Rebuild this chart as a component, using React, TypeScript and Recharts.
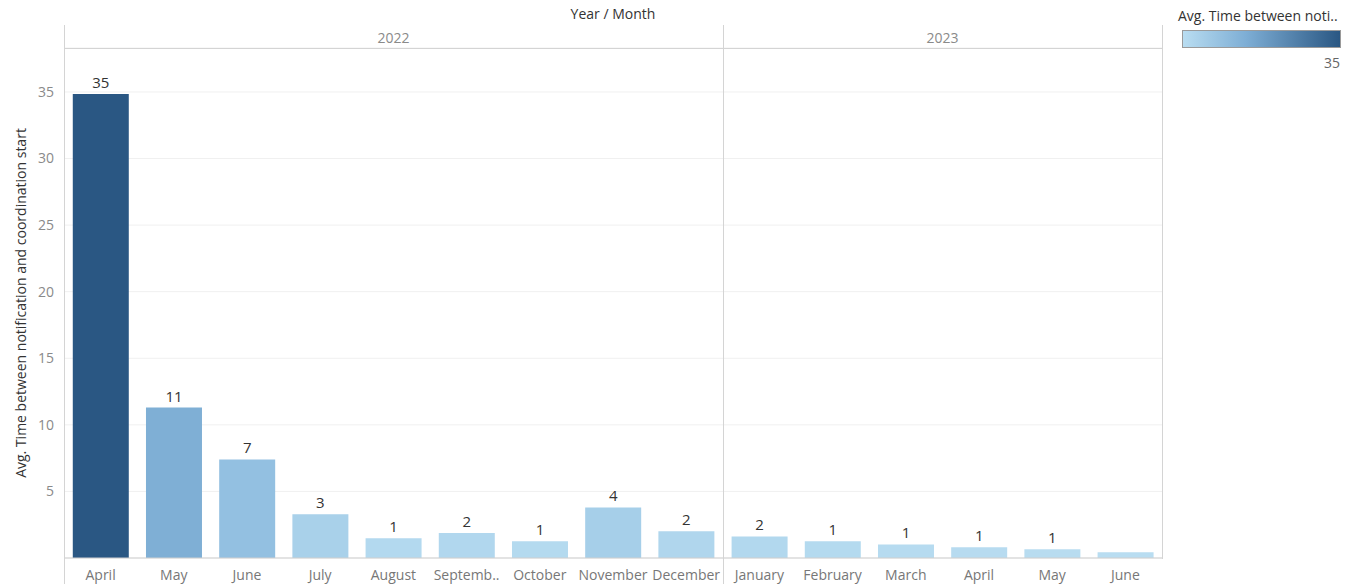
import React from 'react';
import { BarChart, Bar, XAxis, YAxis, CartesianGrid, LabelList, Cell } from 'recharts';

// keys are year-month so the repeated month names stay unique
const monthKeys = [
  '2022-04', '2022-05', '2022-06', '2022-07', '2022-08', '2022-09', '2022-10', '2022-11', '2022-12',
  '2023-01', '2023-02', '2023-03', '2023-04', '2023-05', '2023-06',
];
const monthNames = [
  'April', 'May', 'June', 'July', 'August', 'Septemb..', 'October', 'November', 'December',
  'January', 'February', 'March', 'April', 'May', 'June',
];
const avgTime = [34.85, 11.3, 7.4, 3.28, 1.48, 1.87, 1.25, 3.8, 2.0, 1.62, 1.25, 1.02, 0.8, 0.65, 0.43];
const valueLabels = ['35', '11', '7', '3', '1', '2', '1', '4', '2', '2', '1', '1', '1', '1', ''];
const yTicks = [5, 10, 15, 20, 25, 30, 35];

const data = monthKeys.map((key, i) => ({
  key,
  name: monthNames[i],
  value: avgTime[i],
  label: valueLabels[i],
}));

const FONT = '"Open Sans", "Noto Sans", sans-serif';

// sequential blue ramp, light -> dark
const stops: [number, number[]][] = [
  [0, [0xb9, 0xdd, 0xf1]],
  [0.2, [0x93, 0xc0, 0xe1]],
  [0.32, [0x7e, 0xae, 0xd5]],
  [1, [0x2a, 0x57, 0x83]],
];
const minV = Math.min(...avgTime);
const maxV = Math.max(...avgTime);
const colorFor = (v: number) => {
  const t = (v - minV) / (maxV - minV);
  for (let i = 1; i < stops.length; i++) {
    if (t <= stops[i][0]) {
      const [t0, c0] = stops[i - 1];
      const [t1, c1] = stops[i];
      const f = (t - t0) / (t1 - t0);
      const c = c0.map((a, j) => Math.round(a + (c1[j] - a) * f));
      return `rgb(${c[0]},${c[1]},${c[2]})`;
    }
  }
  return 'rgb(42,87,131)';
};

const line = (style: React.CSSProperties): React.CSSProperties => ({
  position: 'absolute',
  background: '#d4d4d4',
  ...style,
});

const renderLabel = (props: any) => {
  const { x, y, width, value } = props;
  if (!value) return null;
  return (
    <text x={x + width / 2} y={y - 6} textAnchor="middle" fill="#333" fontSize={15} fontFamily={FONT}>
      {value}
    </text>
  );
};

export default function App() {
  return (
    <div style={{ position: 'absolute', left: 0, top: 0, width: 1345, height: 584, background: '#fff', fontFamily: FONT }}>
      <BarChart
        width={1345}
        height={584}
        data={data}
        margin={{ top: 48, right: 183, bottom: 0, left: 0 }}
        barCategoryGap="12%"
      >
        <CartesianGrid vertical={false} stroke="#f0f0f0" />
        <XAxis
          dataKey="key"
          tickFormatter={(_v: string, i: number) => monthNames[i]}
          interval={0}
          height={26}
          axisLine={{ stroke: '#cfcfcf' }}
          tickLine={false}
          tick={{ fill: '#777', fontSize: 14, fontFamily: FONT }}
          tickMargin={6}
        />
        <YAxis
          width={64}
          domain={[0, 38.3]}
          ticks={yTicks}
          axisLine={false}
          tickLine={false}
          tick={{ fill: '#8a8a8a', fontSize: 14, fontFamily: FONT }}
          tickMargin={4}
        />
        <Bar dataKey="value" isAnimationActive={false}>
          {data.map((d) => (
            <Cell key={d.key} fill={colorFor(d.value)} />
          ))}
          <LabelList dataKey="label" content={renderLabel} />
        </Bar>
      </BarChart>

      {/* header rows and pane borders */}
      <div style={{ position: 'absolute', left: 64, width: 1098, top: 4, textAlign: 'center', fontSize: 14, color: '#333' }}>
        Year / Month
      </div>
      <div style={{ position: 'absolute', left: 64, width: 659, top: 28, textAlign: 'center', fontSize: 14, color: '#8a8a8a' }}>2022</div>
      <div style={{ position: 'absolute', left: 723, width: 439, top: 28, textAlign: 'center', fontSize: 14, color: '#8a8a8a' }}>2023</div>
      <div style={line({ left: 64, top: 48, width: 1098, height: 1 })} />
      <div style={line({ left: 64, top: 25, width: 1, height: 559 })} />
      <div style={line({ left: 723, top: 25, width: 1, height: 559 })} />
      <div style={line({ left: 1162, top: 25, width: 1, height: 534 })} />

      {/* y axis title */}
      <div
        style={{
          position: 'absolute',
          left: 20,
          top: 303,
          transform: 'translate(-50%, -50%) rotate(-90deg)',
          whiteSpace: 'nowrap',
          fontSize: 14,
          color: '#333',
        }}
      >
        Avg. Time between notification and coordination start
      </div>

      {/* colour legend */}
      <div style={{ position: 'absolute', left: 1178, top: 6, fontSize: 14, color: '#333', whiteSpace: 'nowrap' }}>
        Avg. Time between noti..
      </div>
      <div
        style={{
          position: 'absolute',
          left: 1182,
          top: 30,
          width: 157,
          height: 16,
          border: '1px solid #9a9a9a',
          background: 'linear-gradient(to right, #b9ddf1, #7eaed5 40%, #2a5783)',
        }}
      />
      <div style={{ position: 'absolute', right: 5, top: 53, fontSize: 14, color: '#666' }}>35</div>
    </div>
  );
}
